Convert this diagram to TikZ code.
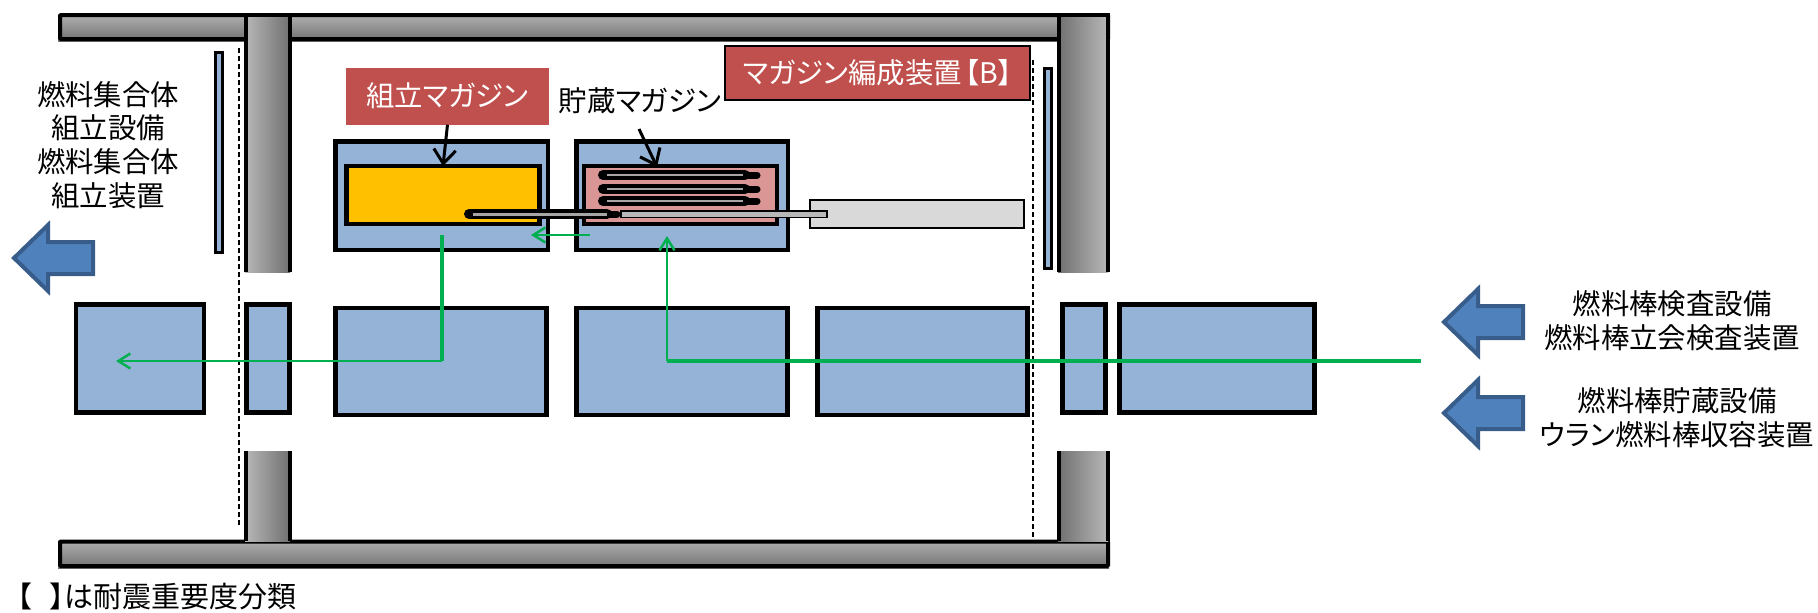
\documentclass[tikz,border=0pt]{standalone}
\usepackage{fontspec}
\setmainfont{Noto Sans CJK JP}[RawFeature=+palt]
\usetikzlibrary{arrows.meta}
\definecolor{panelblue}{HTML}{95B3D7}
\definecolor{labelred}{HTML}{C0504D}
\definecolor{flowgreen}{HTML}{00B050}
\definecolor{asmyellow}{HTML}{FFC000}
\definecolor{storepink}{HTML}{D99694}
\definecolor{arrowline}{HTML}{385D8A}
\definecolor{arrowfill}{HTML}{4F81BD}
\tikzset{
    panel/.style={draw=black,fill=panelblue,line width=4.2pt,inner sep=0pt,outer sep=0pt},
    magbox/.style={panel,minimum width=193pt,minimum height=58pt},
    txt/.style={font=\fontsize{28.4}{33.8}\selectfont,align=center,inner sep=0pt},
    tag/.style={txt,text=white,fill=labelred},
    callout/.style={black,line width=3pt,-{Straight Barb[length=14pt,width=22pt]}},
    flowthin/.style={flowgreen,line width=2.5pt},
    flowthick/.style={flowgreen,line width=4pt},
    flowtip/.style={flowthin,-{Straight Barb[length=12pt,width=15pt]}},
    blockarrow/.style={draw=arrowline,fill=arrowfill,line width=4pt},
    wall/.style={black,line width=4pt},
    cutline/.style={black,line width=1.5pt,dash pattern=on 5pt off 3pt}
}
\begin{document}
\begin{tikzpicture}[x=1pt,y=-1pt]
                \useasboundingbox (0,0) rectangle (1818,613);
                \shade[top color=black!30,bottom color=black!56] (58,14) rectangle (1109,41);
                \draw[wall,rounded corners=1pt] (60,15) rectangle (1108,39);
                \shade[top color=black!30,bottom color=black!56] (58,540) rectangle (1109,568);
                \draw[wall,rounded corners=1pt] (60,541.5) rectangle (1108,566);
                \shade[left color=black!28,right color=black!56] (245,14) rectangle (290,272);
                \shade[left color=black!28,right color=black!56] (245,451) rectangle (290,541);
                \shade[left color=black!56,right color=black!28] (1058,14) rectangle (1108,272);
                \shade[left color=black!56,right color=black!28] (1058,451) rectangle (1108,541);
                \draw[wall] (245.5,272) -- (245.5,15) -- (289.7,15) -- (289.7,272);
                \draw[wall] (245.5,451) -- (245.5,541) (289.7,451) -- (289.7,541);
                \draw[wall] (1058.7,272) -- (1058.7,15) -- (1108,15) -- (1108,272);
                \draw[wall] (1058.7,451) -- (1058.7,541) (1108,451) -- (1108,541);
                \draw[cutline] (239,48) -- (239,527);
                \draw[cutline] (1033,60) -- (1033,538);
                \node[panel,minimum width=7pt,minimum height=200pt,line width=3pt] (doorL) at (219,152.5) {};
                \node[panel,minimum width=7pt,minimum height=200pt,line width=3pt] (doorR) at (1048,168.5) {};
                \node[panel,minimum width=212.5pt,minimum height=108.5pt] (asmBase) at (441.75,195.75) {};
                \node[panel,minimum width=211.5pt,minimum height=108.5pt] (storeBase) at (682.25,195.75) {};
                \node[magbox,fill=asmyellow] (asmMag) at (443,195) {};
                \node[magbox,fill=storepink] (storeMag) at (680.5,195) {};
                \node[panel,fill=black!15,line width=2pt,minimum width=214pt,minimum height=28pt] (tray) at (917,214) {};
                \foreach \nm/\cx/\cy/\w/\h in {cellA/139.75/358.5/128/108,cellB/268/358.5/43/108,cellC/441/361.5/211/107,
                        cellD/682/361.5/211/107,cellE/922.5/361.5/210/107,cellF/1084/358.5/43/108,cellG/1217/358.5/195/108}{
                        \node[panel,minimum width=\w pt,minimum height=\h pt] (\nm) at (\cx,\cy) {};
                }
                \foreach \ya in {175,189,201}{
                        \draw[black,line width=10pt,line cap=round] (603,\ya) -- (745,\ya);
                        \draw[black,line width=7pt,line cap=round] (745,\ya) -- (757,\ya);
                        \draw[black!35,line width=2.5pt] (607,\ya) -- (743,\ya);
                }
                \draw[black,line width=10pt,line cap=round] (469,214) -- (607,214);
                \draw[black,line width=7pt,line cap=round] (607,214) -- (617,214);
                \draw[draw=black,fill=black!28,line width=1.5pt] (621,211) rectangle (827,217.5);
                \draw[black!35,line width=3pt] (473,214) -- (607,214);
                \node[tag,minimum width=203pt,minimum height=57pt] (asmLabel) at (447.5,96) {組立マガジン};
                \node[tag,draw=black,line width=2pt,minimum width=305pt,minimum height=54pt] (unitLabel) at (877.5,73) {マガジン編成装置\hspace{3pt}【B】};
                \node[txt] (storeLabel) at (640,101) {貯蔵マガジン};
                \node[txt] (asmText) at (108,145) {燃料集合体\\組立設備\\燃料集合体\\組立装置};
                \node[txt] (inspText) at (1672,321) {燃料棒検査設備\\燃料棒立会検査装置};
                \node[txt] (rodText) at (1677,418) {燃料棒貯蔵設備\\ウラン燃料棒収容装置};
                \node[txt,font=\fontsize{29}{34}\selectfont,anchor=west,text height=22pt,text depth=3pt] (noteText) at (17,598) {【\hspace{-2pt}　\hspace{-9pt}】は耐震重要度分類};
                \coordinate (storeStart) at (639,129);
                \coordinate (storeTip) at (657,167);
                \draw[callout] (asmLabel.south) -- (asmMag.north);
                \draw[callout] (storeStart) -- (storeTip);
                \foreach \tx/\ty in {14/258,1444/322,1444/413}{
                        \draw[blockarrow] (\tx,\ty) -- ++(34,-33) -- ++(0,17) -- ++(45,0)
                                -- ++(0,32) -- ++(-45,0) -- ++(0,17) -- cycle;
                }
                \coordinate (feedEnd) at (1421,361);
                \coordinate (feedTurn) at (667,361);
                \coordinate (feedTip) at (667,236);
                \coordinate (outStart) at (441.5,235);
                \coordinate (outTurn) at (441.5,361);
                \coordinate (outTip) at (116,361);
                \coordinate (moveStart) at (590,235);
                \coordinate (moveTip) at (531,235);
                \draw[flowthick] (feedEnd) -- (feedTurn);
                \draw[flowtip] (feedTurn) -- (feedTip);
                \draw[flowthick] (outStart) -- (outTurn);
                \draw[flowtip] (outTurn) -- (outTip);
                \draw[flowtip] (moveStart) -- (moveTip);
\end{tikzpicture}
\end{document}
